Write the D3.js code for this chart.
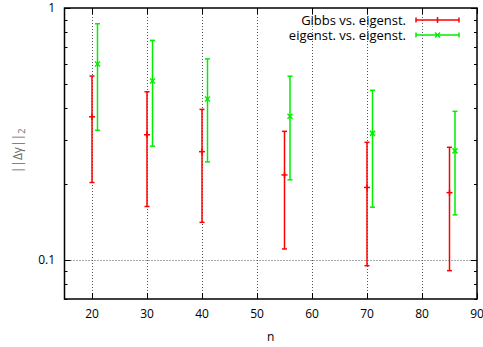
<!DOCTYPE html>
<html><head><meta charset="utf-8">
<script src="https://cdn.jsdelivr.net/npm/d3@7"></script>
<style>body{margin:0;background:#fff;} svg{display:block;} text{font-family:"Open Sans",sans-serif;}</style>
</head><body>
<script>
const seriesNames = ["Gibbs vs. eigenst.", "eigenst. vs. eigenst."];
const gibbsN   = [20, 30, 40, 55, 70, 85];
const gibbsMid = [0.370, 0.314, 0.269, 0.2175, 0.194, 0.185];
const gibbsLo  = [0.203, 0.163, 0.141, 0.1106, 0.0949, 0.0907];
const gibbsHi  = [0.537, 0.465, 0.396, 0.324, 0.293, 0.280];
const eigN   = [21, 31, 41, 56, 71, 86];
const eigMid = [0.599, 0.513, 0.435, 0.372, 0.318, 0.271];
const eigLo  = [0.327, 0.283, 0.245, 0.208, 0.162, 0.151];
const eigHi  = [0.866, 0.744, 0.628, 0.536, 0.4715, 0.389];
const xTicks = [20, 30, 40, 50, 60, 70, 80, 90];
const yMajor = [0.1, 1];
const yMinor = [0.07, 0.08, 0.09, 0.2, 0.3, 0.4, 0.5, 0.6, 0.7, 0.8, 0.9];

const W = 483, H = 347;
const L = 64.5, R = 477, T = 8, B = 299;
const svg = d3.select("body").append("svg").attr("width", W).attr("height", H);
const x = d3.scaleLinear().domain([15, 90]).range([L, R]);
const y = d3.scaleLog().domain([0.07, 1]).range([B, T]);

// grid
const grid = svg.append("g").attr("stroke", "#555").attr("stroke-width", 1).attr("stroke-dasharray", "1,2");
grid.selectAll(".gx").data(xTicks.filter(d => d < 90)).join("line")
  .attr("x1", d => Math.round(x(d)) + 0.5).attr("x2", d => Math.round(x(d)) + 0.5)
  .attr("y1", T).attr("y2", B);
grid.selectAll(".gy").data([0.1]).join("line")
  .attr("x1", L).attr("x2", R)
  .attr("y1", d => Math.round(y(d)) + 0.5).attr("y2", d => Math.round(y(d)) + 0.5);

// axes ticks (inward, mirrored)
const tk = svg.append("g").attr("stroke", "#000").attr("stroke-width", 1);
xTicks.forEach(d => {
  const px = Math.round(x(d)) + 0.5;
  tk.append("line").attr("x1", px).attr("x2", px).attr("y1", B).attr("y2", B - 6);
  tk.append("line").attr("x1", px).attr("x2", px).attr("y1", T).attr("y2", T + 6);
});
yMajor.forEach(d => {
  const py = Math.round(y(d)) + 0.5;
  tk.append("line").attr("x1", L).attr("x2", L + 6).attr("y1", py).attr("y2", py);
  tk.append("line").attr("x1", R).attr("x2", R - 6).attr("y1", py).attr("y2", py);
});
yMinor.forEach(d => {
  const py = Math.round(y(d)) + 0.5;
  tk.append("line").attr("x1", L).attr("x2", L + 3).attr("y1", py).attr("y2", py);
  tk.append("line").attr("x1", R).attr("x2", R - 3).attr("y1", py).attr("y2", py);
});

// border
svg.append("rect").attr("x", L).attr("y", T).attr("width", R - L).attr("height", B - T)
  .attr("fill", "none").attr("stroke", "#000").attr("stroke-width", 1.5);

// tick labels
svg.append("g").selectAll("text").data(xTicks).join("text")
  .attr("x", d => x(d)).attr("y", 318).attr("text-anchor", "middle")
  .attr("font-size", 12).attr("fill", "#000").text(d => d);
svg.append("g").selectAll("text").data(yMajor).join("text")
  .attr("x", 55).attr("y", d => y(d) + 4).attr("text-anchor", "end")
  .attr("font-size", 12).attr("fill", "#000").text(d => d);

// axis labels
svg.append("text").attr("x", x(52.5)).attr("y", 341).attr("text-anchor", "middle")
  .attr("font-size", 12).text("n");
const yl = svg.append("text").attr("transform", "translate(22," + 151 + ") rotate(-90)")
  .attr("text-anchor", "middle").attr("font-size", 12).attr("fill", "#666");
yl.append("tspan").text("||Δγ||");
yl.append("tspan").attr("font-size", 9).attr("dy", 3).text("2");

// error bars
function drawSeries(ns, mids, los, his, color, marker, dx) {
  const g = svg.append("g").attr("stroke", color).attr("stroke-width", 1.5).attr("fill", "none");
  ns.forEach((n, i) => {
    const px = x(n);
    g.append("line").attr("x1", px).attr("x2", px).attr("y1", y(los[i])).attr("y2", y(his[i]));
    [los[i], his[i]].forEach(v => g.append("line").attr("x1", px - 2.5).attr("x2", px + 2.5)
      .attr("y1", y(v)).attr("y2", y(v)));
    const cy = y(mids[i]);
    if (marker === "+") {
      g.append("line").attr("x1", px - 3).attr("x2", px + 3).attr("y1", cy).attr("y2", cy);
      g.append("line").attr("x1", px).attr("x2", px).attr("y1", cy - 3).attr("y2", cy + 3);
    } else {
      g.append("line").attr("x1", px - 2.5).attr("x2", px + 2.5).attr("y1", cy - 2.5).attr("y2", cy + 2.5);
      g.append("line").attr("x1", px - 2.5).attr("x2", px + 2.5).attr("y1", cy + 2.5).attr("y2", cy - 2.5);
    }
  });
}
drawSeries(gibbsN, gibbsMid, gibbsLo, gibbsHi, "#ff0000", "+");
drawSeries(eigN, eigMid, eigLo, eigHi, "#00ee00", "x");

// legend
const legColors = ["#ff0000", "#00ee00"];
const legMarkers = ["+", "x"];
seriesNames.forEach((s, i) => {
  const ly = 20 + i * 15;
  svg.append("text").attr("x", 406).attr("y", ly + 4.5).attr("text-anchor", "end")
    .attr("font-size", 13).attr("fill", "#000").text(s);
  const g = svg.append("g").attr("stroke", legColors[i]).attr("stroke-width", 1.5);
  g.append("line").attr("x1", 416).attr("x2", 459).attr("y1", ly).attr("y2", ly);
  g.append("line").attr("x1", 416).attr("x2", 416).attr("y1", ly - 2.5).attr("y2", ly + 2.5);
  g.append("line").attr("x1", 459).attr("x2", 459).attr("y1", ly - 2.5).attr("y2", ly + 2.5);
  if (legMarkers[i] === "+") {
    g.append("line").attr("x1", 437.5).attr("x2", 437.5).attr("y1", ly - 3).attr("y2", ly + 3);
  } else {
    g.append("line").attr("x1", 435).attr("x2", 440).attr("y1", ly - 2.5).attr("y2", ly + 2.5);
    g.append("line").attr("x1", 435).attr("x2", 440).attr("y1", ly + 2.5).attr("y2", ly - 2.5);
  }
});
</script>
</body></html>
